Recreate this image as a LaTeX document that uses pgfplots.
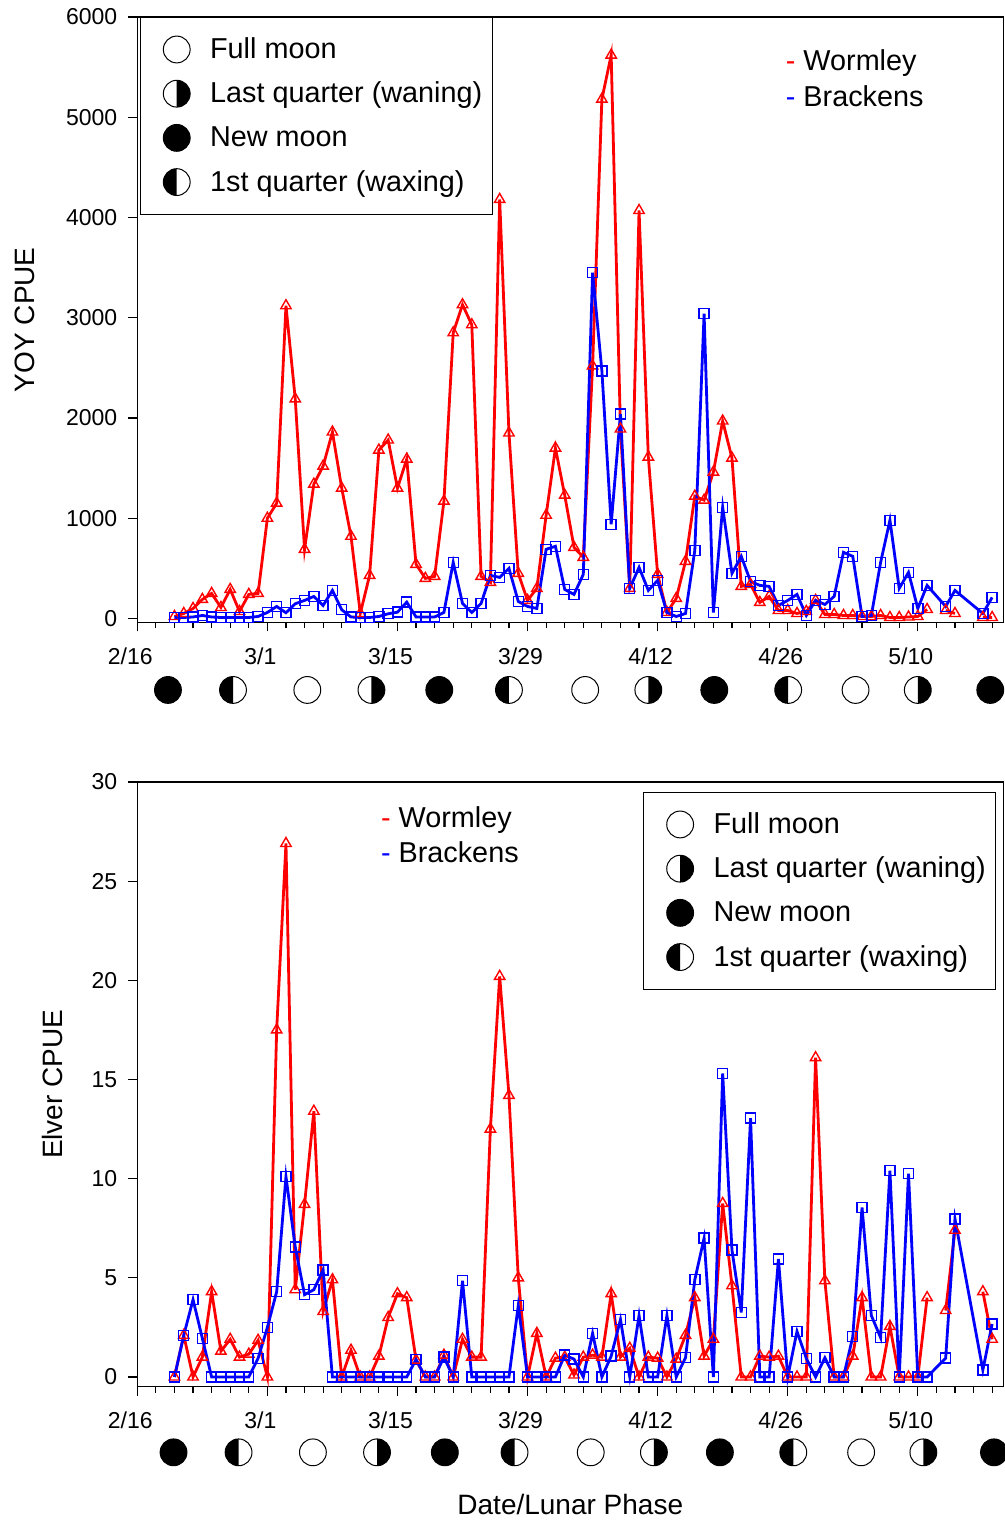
\documentclass[border=0pt]{standalone}
\usepackage{fontspec}
\setmainfont{Liberation Sans}
\usepackage{pgfplots}
\pgfplotsset{compat=1.18}

\pgfdeclareplotmark{moonfull}{%
  \pgfsetfillcolor{white}\pgfsetstrokecolor{black}%
  \pgfpathcircle{\pgfpointorigin}{\pgfplotmarksize}%
  \pgfusepathqfillstroke}
\pgfdeclareplotmark{moonnew}{%
  \pgfsetfillcolor{black}\pgfsetstrokecolor{black}%
  \pgfpathcircle{\pgfpointorigin}{\pgfplotmarksize}%
  \pgfusepathqfillstroke}
\pgfdeclareplotmark{moonlast}{%
  \pgfsetfillcolor{white}%
  \pgfpathcircle{\pgfpointorigin}{\pgfplotmarksize}%
  \pgfusepathqfill
  \pgfsetfillcolor{black}%
  \pgfpathmoveto{\pgfqpoint{0pt}{\pgfplotmarksize}}%
  \pgfpatharc{90}{-90}{\pgfplotmarksize}%
  \pgfpathclose
  \pgfusepathqfill
  \pgfsetstrokecolor{black}%
  \pgfpathcircle{\pgfpointorigin}{\pgfplotmarksize}%
  \pgfusepathqstroke}
\pgfdeclareplotmark{moonfirst}{%
  \pgfsetfillcolor{white}%
  \pgfpathcircle{\pgfpointorigin}{\pgfplotmarksize}%
  \pgfusepathqfill
  \pgfsetfillcolor{black}%
  \pgfpathmoveto{\pgfqpoint{0pt}{\pgfplotmarksize}}%
  \pgfpatharc{90}{270}{\pgfplotmarksize}%
  \pgfpathclose
  \pgfusepathqfill
  \pgfsetstrokecolor{black}%
  \pgfpathcircle{\pgfpointorigin}{\pgfplotmarksize}%
  \pgfusepathqstroke}

\pgfplotsset{
  common/.style={
    scale only axis, width=433pt,
    xmin=0, xmax=93.2,
    axis line style={line width=0.6pt},
    every tick/.style={black, line width=0.6pt},
    tick align=outside, xtick pos=left, ytick pos=left,
    major tick length=4.5pt, minor tick length=3pt,
    xtick={0,14,...,84}, xticklabels={2/16,3/1,3/15,3/29,4/12,4/26,5/10},
    minor xtick={2,4,...,92},
    tick label style={font=\fontsize{11.5}{13}\selectfont},
    /pgf/number format/assume math mode=true,
    /pgf/number format/1000 sep={},
    xticklabel style={xshift=-3.5pt, yshift=-4.5pt},
    yticklabel style={xshift=-2pt},
    clip=false,
    legend image code/.code={\draw[##1] plot coordinates {(0pt,0pt)}; \path[draw=none,fill=none] (-13.3pt,-6.6pt) rectangle (6.7pt,6.6pt);},
    legend style={draw=black, line width=0.5pt, anchor=north west,
      font=\fontsize{14.4}{16}\selectfont, inner xsep=5pt, inner ysep=9.3pt,
      row sep=8.7pt, column sep=10pt, nodes={inner sep=0pt}},
    legend cell align=left,
  },
  wor/.style={red, line width=1.4pt, mark=triangle, mark size=3pt,
    mark options={line width=0.7pt, solid}, forget plot, unbounded coords=jump},
  bra/.style={blue, line width=1.4pt, mark=square, mark size=2.5pt,
    mark options={line width=0.7pt, solid}, forget plot},
  moon/.style={only marks, mark size=6.7pt, mark options={line width=0.5pt}},
}

\begin{document}
\begin{tikzpicture}
\useasboundingbox (0pt,0pt) rectangle (502.5pt,761pt);
% ---------------- top panel ----------------
\begin{axis}[common, at={(68.65pt,449.75pt)}, anchor=south west, height=302.75pt,
  ymin=-40, ymax=6000, ytick={0,1000,...,6000},
  ylabel={YOY CPUE},
  every axis y label/.style={at={(axis description cs:-0.1297,0.5)}, rotate=90, anchor=center, font=\fontsize{14}{16}\selectfont},
  legend style={at={(0.0027,1)}},
]
\addplot[wor] coordinates {
(4,20)(5,50)(6,100)(7,190)(8,250)(9,110)(10,290)(11,70)(12,240)(13,250)
(14,1000)(15,1150)(16,3120)(17,2190)(18,690)(19,1340)(20,1520)(21,1860)(22,1300)(23,820)
(24,50)(25,430)(26,1680)(27,1780)(28,1300)(29,1590)(30,540)(31,400)(32,420)(33,1170)
(34,2850)(35,3130)(36,2930)(37,420)(38,360)(39,4180)(40,1850)(41,450)(42,180)(43,300)
(44,1030)(45,1700)(46,1230)(47,710)(48,610)(49,2520)(50,5180)(51,5620)(52,1890)(53,300)
(54,4070)(55,1610)(56,440)(57,60)(58,200)(59,570)(60,1220)(61,1180)(62,1460)(63,1970)
(64,1600)(65,320)(66,340)(67,160)(68,220)(69,80)(70,80)(71,50)(72,70)(73,180)
(74,40)(75,40)(76,30)(77,30)(78,20)(79,20)(80,30)(81,10)(82,10)(83,15)
(84,20)(85,90)(86,nan)(87,80)(88,50)(89,nan)(91,10)(92,10)};
\addplot[bra] coordinates {
(4,10)(5,10)(6,15)(7,30)(8,15)(9,10)(10,10)(11,10)(12,10)(13,20)
(14,60)(15,120)(16,57)(17,147)(18,180)(19,220)(20,130)(21,280)(22,87)(23,15)
(24,10)(25,10)(26,20)(27,47)(28,63)(29,163)(30,15)(31,15)(32,15)(33,60)
(34,560)(35,150)(36,60)(37,150)(38,430)(39,410)(40,500)(41,170)(42,120)(43,100)
(44,690)(45,720)(46,290)(47,240)(48,440)(49,3450)(50,2470)(51,940)(52,2040)(53,300)
(54,510)(55,280)(56,380)(57,60)(58,20)(59,50)(60,680)(61,3040)(62,60)(63,1110)
(64,450)(65,620)(66,370)(67,330)(68,320)(69,130)(70,180)(71,240)(72,30)(73,180)
(74,140)(75,220)(76,660)(77,620)(78,20)(79,30)(80,560)(81,980)(82,300)(83,460)
(84,100)(85,330)(87,120)(88,280)(91,50)(92,210)};
\addplot[moon, mark=moonfull] coordinates {(18.3,-713)(48.2,-713)(77.3,-713)};
\addlegendentry{Full moon}
\addplot[moon, mark=moonlast] coordinates {(25.2,-713)(55.0,-713)(84.0,-713)};
\addlegendentry{Last quarter (waning)}
\addplot[moon, mark=moonnew] coordinates {(3.3,-713)(32.5,-713)(62.1,-713)(91.8,-713)};
\addlegendentry{New moon}
\addplot[moon, mark=moonfirst] coordinates {(10.3,-713)(40.0,-713)(70.05,-713)};
\addlegendentry{1st quarter (waxing)}
\node[anchor=west, font=\fontsize{14.4}{16}\selectfont] at (axis description cs:0.7408,0.924) {\textcolor{red}{-} Wormley};
\node[anchor=west, font=\fontsize{14.4}{16}\selectfont] at (axis description cs:0.7408,0.8695) {\textcolor{blue}{-} Brackens};
\end{axis}
% ---------------- bottom panel ----------------
\begin{axis}[common, at={(68.65pt,67.75pt)}, anchor=south west, height=302.25pt,
  ymin=-0.48, ymax=30, ytick={0,5,...,30},
  ylabel={Elver CPUE},
  every axis y label/.style={at={(axis description cs:-0.0985,0.5)}, rotate=90, anchor=center, font=\fontsize{14}{16}\selectfont},
  xlabel={Date/Lunar Phase},
  every axis x label/.style={at={(axis description cs:0.5,-0.196)}, anchor=center, font=\fontsize{14}{16}\selectfont},
  legend style={at={(0.584,0.9835)}},
]
\addplot[wor] coordinates {
(4,0)(5,2.1)(6,0)(7,1.0)(8,4.3)(9,1.3)(10,1.9)(11,1.0)(12,1.15)(13,1.85)
(14,0)(15,17.5)(16,26.9)(17,4.4)(18,8.7)(19,13.4)(20,3.3)(21,4.9)(22,0)(23,1.35)
(24,0)(25,0)(26,1.05)(27,3.0)(28,4.2)(29,4.0)(30,0.85)(31,0)(32,0)(33,1.1)
(34,0)(35,1.9)(36,1.0)(37,1.0)(38,12.5)(39,20.2)(40,14.2)(41,5.0)(42,0)(43,2.2)
(44,0)(45,0.95)(46,1.0)(47,0.1)(48,1.0)(49,1.1)(50,1.0)(51,4.2)(52,1.0)(53,1.45)
(54,0)(55,1.0)(56,0.95)(57,0)(58,0.9)(59,2.1)(60,4.0)(61,1.05)(62,1.9)(63,8.75)
(64,4.6)(65,0)(66,0)(67,1.05)(68,1.0)(69,1.05)(70,0)(71,0)(72,0)(73,16.1)
(74,4.85)(75,0)(76,0)(77,1.05)(78,4.0)(79,0)(80,0)(81,2.55)(82,0)(83,0)
(84,0)(85,4.0)(86,nan)(87,3.35)(88,7.4)(89,nan)(91,4.3)(92,1.9)};
\addplot[bra] coordinates {
(4,0)(5,2.1)(6,3.9)(7,1.95)(8,0)(9,0)(10,0)(11,0)(12,0)(13,0.94)
(14,2.5)(15,4.3)(16,10.1)(17,6.55)(18,4.15)(19,4.4)(20,5.4)(21,0)(22,0)(23,0)
(24,0)(25,0)(26,0)(27,0)(28,0)(29,0)(30,0.88)(31,0)(32,0)(33,1.0)
(34,0)(35,4.85)(36,0)(37,0)(38,0)(39,0)(40,0)(41,3.6)(42,0)(43,0)
(44,0)(45,0)(46,1.1)(47,0.9)(48,0)(49,2.2)(50,0)(51,1.05)(52,2.9)(53,0)
(54,3.1)(55,0)(56,0)(57,3.1)(58,0)(59,0.97)(60,4.9)(61,7.0)(62,0)(63,15.3)
(64,6.4)(65,3.25)(66,13.05)(67,0)(68,0)(69,5.95)(70,0)(71,2.3)(72,0.94)(73,0)
(74,0.97)(75,0)(76,0)(77,2.03)(78,8.55)(79,3.1)(80,1.98)(81,10.4)(82,0)(83,10.25)
(84,0)(85,0)(87,0.95)(88,7.97)(91,0.35)(92,2.67)};
\addplot[moon, mark=moonfull] coordinates {(18.9,-3.8)(48.8,-3.8)(77.9,-3.8)};
\addlegendentry{Full moon}
\addplot[moon, mark=moonlast] coordinates {(25.8,-3.8)(55.6,-3.8)(84.6,-3.8)};
\addlegendentry{Last quarter (waning)}
\addplot[moon, mark=moonnew] coordinates {(3.9,-3.8)(33.1,-3.8)(62.7,-3.8)(92.2,-3.8)};
\addlegendentry{New moon}
\addplot[moon, mark=moonfirst] coordinates {(10.9,-3.8)(40.6,-3.8)(70.6,-3.8)};
\addlegendentry{1st quarter (waxing)}
\node[anchor=west, font=\fontsize{14.4}{16}\selectfont] at (axis description cs:0.2733,0.937) {\textcolor{red}{-} Wormley};
\node[anchor=west, font=\fontsize{14.4}{16}\selectfont] at (axis description cs:0.2733,0.884) {\textcolor{blue}{-} Brackens};
\end{axis}
\end{tikzpicture}
\end{document}
